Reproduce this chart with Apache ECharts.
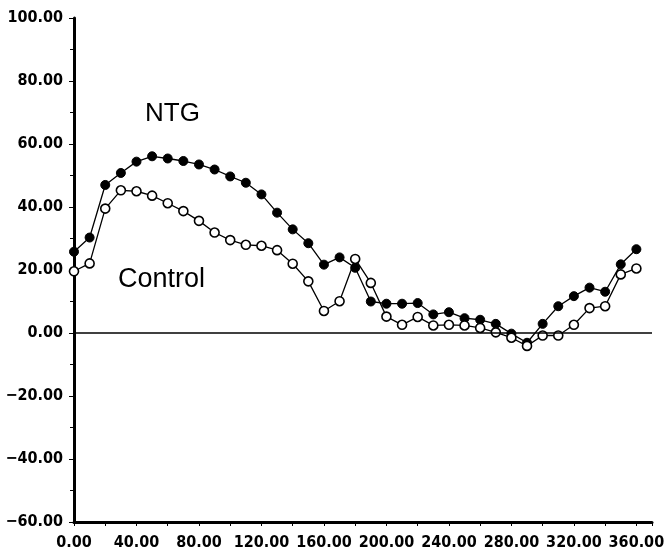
<!DOCTYPE html>
<html>
<head>
<meta charset="utf-8">
<script src="https://cdn.jsdelivr.net/npm/echarts@6/dist/echarts.min.js"></script>
<style>
html,body{margin:0;padding:0;background:#fff;}
#chart{width:668px;height:551px;}
</style>
</head>
<body>
<div id="chart"></div>
<script>
const angles = [0,10,20,30,40,50,60,70,80,90,100,110,120,130,140,150,160,170,180,190,200,210,220,230,240,250,260,270,280,290,300,310,320,330,340,350,360];
const ntg = [25.8,30.3,47.0,50.8,54.4,56.1,55.4,54.6,53.5,51.9,49.7,47.7,44.0,38.2,32.9,28.5,21.7,24.0,20.7,10.0,9.3,9.3,9.5,5.9,6.6,4.7,4.2,2.9,-0.2,-3.1,2.9,8.5,11.7,14.4,13.1,21.8,26.6];
const control = [19.6,22.1,39.5,45.3,45.0,43.6,41.2,38.7,35.6,31.9,29.5,28.0,27.7,26.3,22.0,16.4,7.0,10.1,23.5,15.9,5.2,2.6,5.1,2.4,2.6,2.4,1.6,0.2,-1.5,-4.1,-0.8,-0.8,2.6,7.9,8.5,18.6,20.5];
const seriesNames = ['NTG', 'Control'];
const xTickLabels = [0,40,80,120,160,200,240,280,320,360];
const yTickLabels = [-60,-40,-20,0,20,40,60,80,100];

const fmt = v => v.toFixed(2).replace('-', '\u2212');
const labelFont = {fontFamily: '"DejaVu Sans Condensed", "DejaVu Sans", sans-serif', fontWeight: 'bold', fontSize: 16, color: '#000'};

const chart = echarts.init(document.getElementById('chart'), null, {renderer: 'canvas'});
chart.setOption({
  animation: false,
  backgroundColor: '#fff',
  grid: {left: 74, right: 16, top: 18, bottom: 29, containLabel: false},
  xAxis: {
    type: 'value', min: 0, max: 370, interval: 20,
    axisLine: {onZero: false, lineStyle: {color: '#000', width: 3}},
    axisTick: {show: true, length: 4, lineStyle: {color: '#000', width: 1}},
    splitLine: {show: false},
    axisLabel: Object.assign({
      margin: 13,
      formatter: v => xTickLabels.indexOf(v) >= 0 ? fmt(v) : ''
    }, labelFont)
  },
  yAxis: {
    type: 'value', min: yTickLabels[0], max: yTickLabels[yTickLabels.length-1], interval: 20,
    axisLine: {show: true, lineStyle: {color: '#000', width: 3}},
    axisTick: {show: true, length: 5, lineStyle: {color: '#000', width: 1}},
    minorTick: {show: true, splitNumber: 2, length: 4, lineStyle: {color: '#000', width: 1}},
    splitLine: {show: false},
    axisLabel: Object.assign({margin: 11, formatter: v => fmt(v)}, labelFont)
  },
  series: [
    {
      name: seriesNames[0], type: 'line',
      data: angles.map((a, i) => [a, ntg[i]]),
      symbol: 'circle', symbolSize: 9,
      itemStyle: {color: '#000', borderColor: '#000', borderWidth: 1},
      lineStyle: {color: '#000', width: 1.3},
      z: 3,
      markLine: {
        silent: true, symbol: 'none', label: {show: false},
        lineStyle: {color: '#000', width: 1.5, type: 'solid'},
        data: [{yAxis: 0}]
      }
    },
    {
      name: seriesNames[1], type: 'line',
      data: angles.map((a, i) => [a, control[i]]),
      symbol: 'circle', symbolSize: 9,
      itemStyle: {color: '#fff', borderColor: '#000', borderWidth: 1.6},
      lineStyle: {color: '#000', width: 1.3},
      z: 4
    }
  ],
  graphic: [
    {type: 'text', left: 145, top: 101, style: {text: seriesNames[0], font: '26px "Liberation Sans", Arial, sans-serif', fill: '#000'}},
    {type: 'text', left: 118, top: 266, style: {text: seriesNames[1], font: '27px "Liberation Sans", Arial, sans-serif', fill: '#000'}}
  ]
});
</script>
</body>
</html>
